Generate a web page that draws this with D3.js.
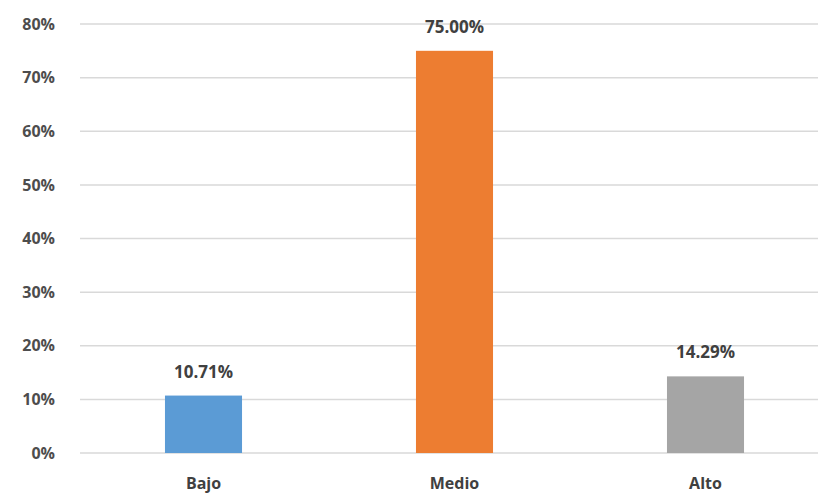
<!DOCTYPE html>
<html>
<head>
<meta charset="utf-8">
<script src="https://cdn.jsdelivr.net/npm/d3@7"></script>
<style>
  html, body { margin: 0; padding: 0; background: #ffffff; }
  svg { display: block; }
</style>
</head>
<body>
<svg id="chart" width="818" height="497"></svg>
<script>
const categories = ["Bajo", "Medio", "Alto"];
const values = [0.1071, 0.75, 0.1429];
const valueLabels = ["10.71%", "75.00%", "14.29%"];
const colors = ["#5b9bd5", "#ed7d31", "#a5a5a5"];
const yTicks = [0, 0.1, 0.2, 0.3, 0.4, 0.5, 0.6, 0.7, 0.8];

const svg = d3.select("#chart");
const font = "'Open Sans', sans-serif";

const x = d3.scaleBand().domain(categories).range([78, 831]).paddingInner(0.693).paddingOuter(0.3465);
const y = d3.scaleLinear().domain([0, 0.8]).range([453, 24]);

// gridlines
svg.append("g").selectAll("line").data(yTicks).join("line")
  .attr("x1", 80).attr("x2", 818)
  .attr("y1", d => y(d)).attr("y2", d => y(d))
  .attr("stroke", "#d9d9d9").attr("stroke-width", 1.5);

// y axis labels
const yAxis = d3.axisLeft(y).tickValues(yTicks).tickFormat(d3.format(".0%")).tickSize(0).tickPadding(0);
const yg = svg.append("g").attr("transform", "translate(55,0)").call(yAxis);
yg.select(".domain").remove();
yg.selectAll("text").attr("font-family", font).attr("font-weight", "bold")
  .attr("font-size", "16px").attr("fill", "#4d4d4d");

// bars
svg.append("g").selectAll("rect").data(categories).join("rect")
  .attr("x", d => x(d)).attr("width", x.bandwidth())
  .attr("y", (d, i) => y(values[i])).attr("height", (d, i) => y(0) - y(values[i]))
  .attr("fill", (d, i) => colors[i]);

// value labels
svg.append("g").selectAll("text").data(categories).join("text")
  .attr("x", d => x(d) + x.bandwidth() / 2)
  .attr("y", (d, i) => y(values[i]) - 18)
  .attr("text-anchor", "middle")
  .attr("font-family", font).attr("font-weight", "bold").attr("font-size", "17px")
  .attr("fill", "#404040")
  .text((d, i) => valueLabels[i]);

// x axis labels
const xAxis = d3.axisBottom(x).tickSize(0).tickPadding(0);
const xg = svg.append("g").attr("transform", "translate(0,478)").call(xAxis);
xg.select(".domain").remove();
xg.selectAll("text").attr("font-family", font).attr("font-weight", "bold")
  .attr("font-size", "16px").attr("fill", "#404040");
</script>
</body>
</html>
